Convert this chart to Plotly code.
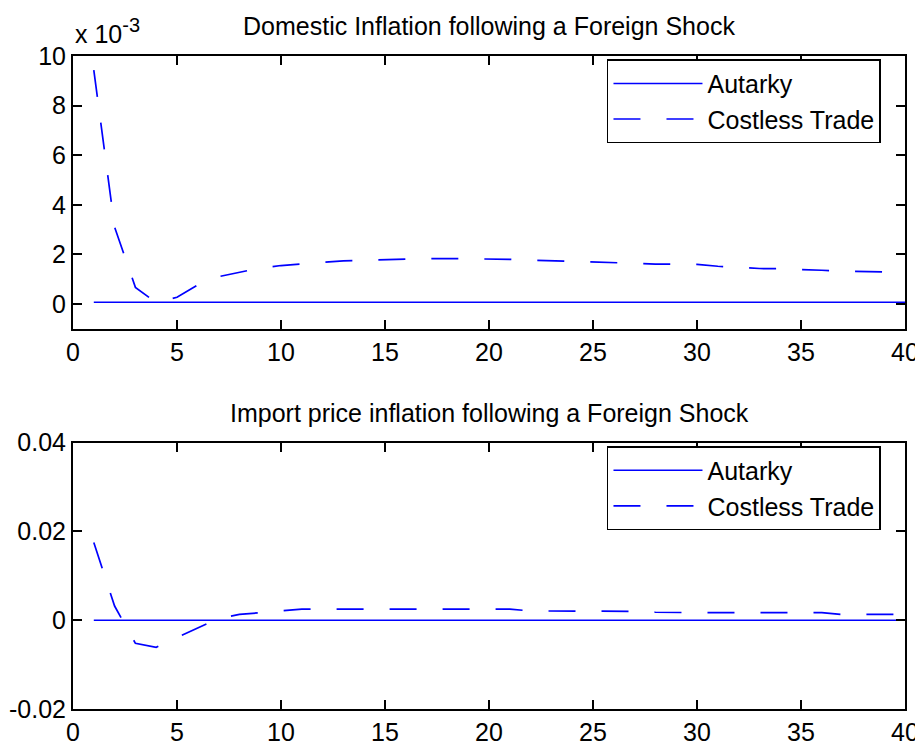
import plotly.graph_objects as go

periods = list(range(1, 41))

# Domestic inflation (raw units, axis shows x 10^-3)
dom_autarky = [0.00007] * 40
dom_costless = [0.00943, 0.00310, 0.00067, 0.00005, 0.00027, 0.00077, 0.00110, 0.00128,
                0.00145, 0.00155, 0.00162, 0.00168, 0.00174, 0.00176, 0.00179, 0.00182,
                0.00183, 0.00183, 0.00183, 0.00182, 0.00180, 0.00177, 0.00175, 0.00172,
                0.00169, 0.00167, 0.00164, 0.00161, 0.00161, 0.00160, 0.00152, 0.00146,
                0.00143, 0.00142, 0.00140, 0.00136, 0.00132, 0.00130, 0.00129, 0.00129]

# Import price inflation
imp_autarky = [0.0] * 40
imp_costless = [0.0175, 0.0032, -0.0052, -0.0061, -0.0039, -0.0017, 0.0004, 0.0013,
                0.0017, 0.0021, 0.0025, 0.0025, 0.0025, 0.0025, 0.0025, 0.0025,
                0.0025, 0.0025, 0.0025, 0.0025, 0.0025, 0.0021, 0.0021, 0.0021,
                0.0021, 0.0021, 0.0020, 0.0018, 0.0017, 0.0017, 0.0017, 0.0017,
                0.0017, 0.0017, 0.0017, 0.0017, 0.0013, 0.0013, 0.0013, 0.0013]

x_ticks = [0, 5, 10, 15, 20, 25, 30, 35, 40]
top_yticks = [0, 2, 4, 6, 8, 10]
bot_yticks = [-0.02, 0, 0.02, 0.04]
bot_yticktext = ["-0.02", "0", "0.02", "0.04"]

scale = 1e3
BLUE = "#0000ff"
FONT = "Liberation Sans, Arial, sans-serif"
FS = 25
DASH = "27px,26px"

fig = go.Figure()
fig.add_trace(go.Scatter(x=periods, y=[v * scale for v in dom_autarky], mode="lines",
                         name="Autarky", line=dict(color=BLUE, width=1.5),
                         xaxis="x", yaxis="y", legend="legend"))
fig.add_trace(go.Scatter(x=periods, y=[v * scale for v in dom_costless], mode="lines",
                         name="Costless Trade", line=dict(color=BLUE, width=1.7, dash=DASH),
                         xaxis="x", yaxis="y", legend="legend"))
fig.add_trace(go.Scatter(x=periods, y=imp_autarky, mode="lines",
                         name="Autarky", line=dict(color=BLUE, width=1.5),
                         xaxis="x2", yaxis="y2", legend="legend2"))
fig.add_trace(go.Scatter(x=periods, y=imp_costless, mode="lines",
                         name="Costless Trade", line=dict(color=BLUE, width=1.7, dash=DASH),
                         xaxis="x2", yaxis="y2", legend="legend2"))

axis_common = dict(showgrid=False, zeroline=False, showline=True, linecolor="black",
                   linewidth=2, mirror="ticks", ticks="inside", ticklen=9, tickwidth=1.5,
                   tickcolor="black", automargin=False,
                   tickfont=dict(size=FS, color="black", family=FONT))

legend_common = dict(bgcolor="white", bordercolor="black", borderwidth=1.5,
                     font=dict(size=FS, color="black", family=FONT),
                     xanchor="left", yanchor="top", itemwidth=89, tracegroupgap=0)

# page body has an 8px margin: figure is sized/offset to put the axes where the reference has them
fig.update_layout(
    width=915, height=737,
    margin=dict(l=65, r=18, t=48, b=36, autoexpand=False),
    paper_bgcolor="white", plot_bgcolor="white",
    font=dict(family=FONT, size=FS, color="black"),
    xaxis=dict(domain=[0, 1], range=[0, 40], tickvals=x_ticks, anchor="y", **axis_common),
    yaxis=dict(domain=[0.5823, 1], range=[-1, 10], tickvals=top_yticks, anchor="x", **axis_common),
    xaxis2=dict(domain=[0, 1], range=[0, 40], tickvals=x_ticks, anchor="y2", **axis_common),
    yaxis2=dict(domain=[0, 0.4078], range=[-0.02, 0.04], tickvals=bot_yticks,
                ticktext=bot_yticktext, anchor="x2", **axis_common),
    legend=dict(x=0.6418, y=0.995, **legend_common),
    legend2=dict(x=0.6418, y=0.4027, **legend_common),
    annotations=[
        dict(text="Domestic Inflation following a Foreign Shock", xref="paper", yref="paper",
             x=0.5, y=1, xanchor="center", yanchor="bottom", yshift=14, showarrow=False,
             font=dict(size=FS, color="black", family=FONT)),
        dict(text="Import price inflation following a Foreign Shock", xref="paper", yref="paper",
             x=0.5, y=0.4078, xanchor="center", yanchor="bottom", yshift=14, showarrow=False,
             font=dict(size=FS, color="black", family=FONT)),
        dict(text="x 10<sup><span style='font-size:20px'>-3</span></sup>", xref="paper", yref="paper",
             x=0.0, y=1, xanchor="left", yanchor="bottom", yshift=6, xshift=0, showarrow=False,
             font=dict(size=FS, color="black", family=FONT)),
    ],
    showlegend=True,
)

fig.write_html("out.html")
